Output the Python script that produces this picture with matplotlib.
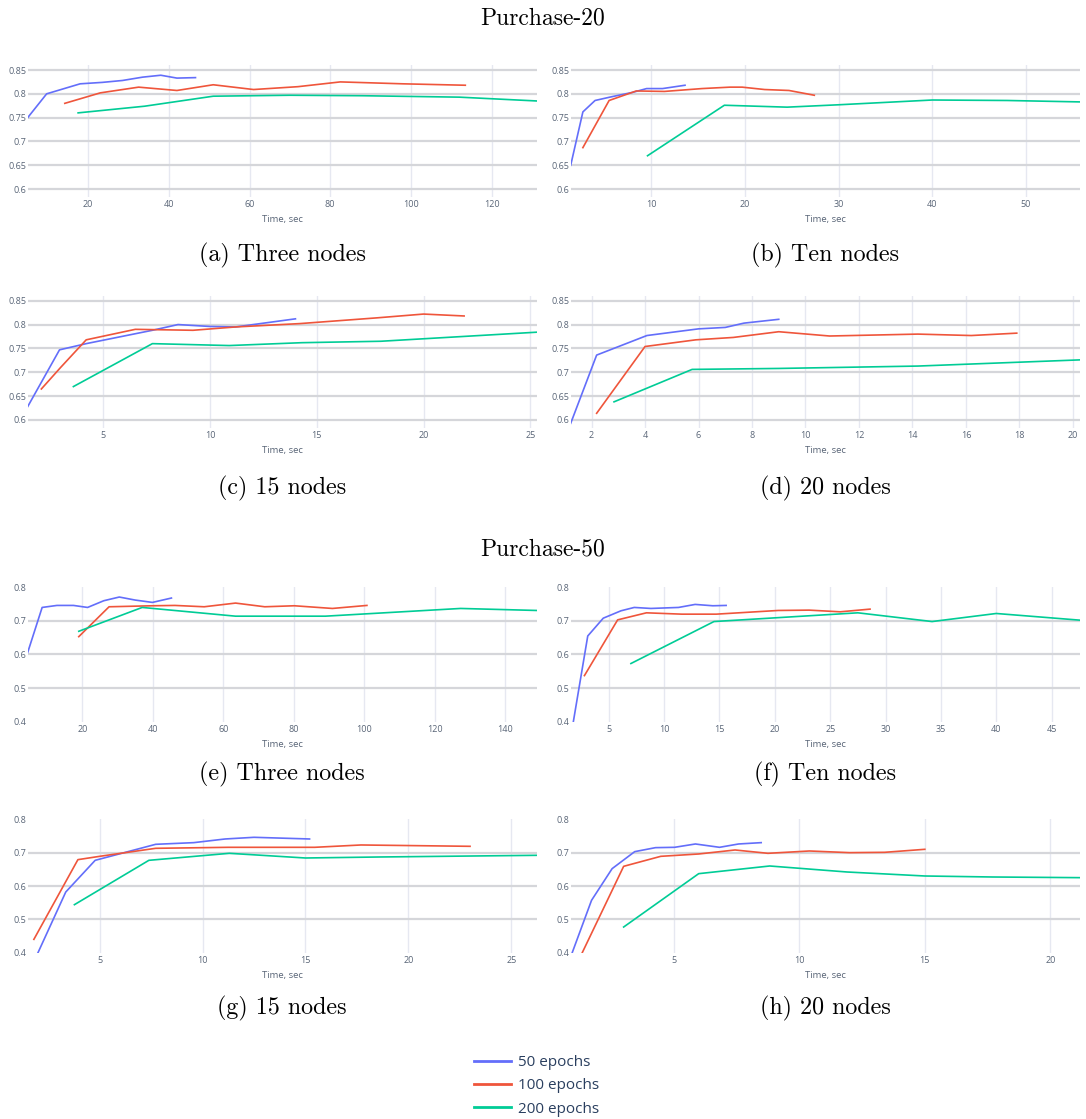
# Purchase-20 / Purchase-50 の学習時間と精度の推移を描画する

import numpy as np
import matplotlib
matplotlib.use("Agg")
import matplotlib.pyplot as plt

FIG_W = 1086
FIG_H = 1119
DPI = 100
FILE_NAME = "out.png"

COLOR_50 = "#636efa"
COLOR_100 = "#ef553b"
COLOR_200 = "#00cc96"
TICK_COLOR = "#596577"
TEXT_COLOR = "#2a3f5f"
HGRID_COLOR = "#d5d6da"
VGRID_COLOR = "#e6e8f1"
LINE_WIDTH = 1.2

SERIES_LABELS = ["50 epochs", "100 epochs", "200 epochs"]

# ---- Purchase-20 ----
# (a) Three nodes
A_T50 = [5.0, 9.7, 18.0, 23.5, 28.5, 33.5, 38.0, 42.0, 46.6]
A_V50 = [0.750, 0.800, 0.821, 0.824, 0.828, 0.835, 0.839, 0.833, 0.834]
A_T100 = [14.2, 23.0, 32.5, 42.0, 51.0, 61.0, 72.0, 82.5, 98.0, 113.5]
A_V100 = [0.780, 0.802, 0.814, 0.807, 0.819, 0.809, 0.815, 0.825, 0.821, 0.818]
A_T200 = [17.5, 34.0, 51.0, 70.0, 88.0, 112.0, 131.2]
A_V200 = [0.760, 0.774, 0.795, 0.797, 0.796, 0.793, 0.785]

# (b) Ten nodes
B_T50 = [1.4, 2.7, 4.0, 5.8, 8.0, 9.5, 11.2, 13.6]
B_V50 = [0.650, 0.762, 0.786, 0.794, 0.803, 0.811, 0.811, 0.818]
B_T100 = [2.7, 5.5, 8.4, 11.4, 15.4, 18.4, 19.7, 22.1, 24.7, 27.4]
B_V100 = [0.687, 0.786, 0.806, 0.805, 0.811, 0.814, 0.814, 0.809, 0.807, 0.797]
B_T200 = [9.6, 17.8, 24.5, 30.0, 40.0, 48.0, 55.8]
B_V200 = [0.670, 0.776, 0.772, 0.777, 0.787, 0.786, 0.783]

# (c) 15 nodes
C_T50 = [1.46, 2.95, 4.2, 7.3, 8.5, 10.0, 11.2, 14.0]
C_V50 = [0.628, 0.747, 0.760, 0.788, 0.800, 0.796, 0.795, 0.812]
C_T100 = [2.1, 3.0, 4.2, 6.5, 9.2, 11.2, 14.2, 17.8, 20.0, 21.9]
C_V100 = [0.665, 0.710, 0.768, 0.790, 0.788, 0.795, 0.802, 0.814, 0.822, 0.818]
C_T200 = [3.6, 7.3, 10.9, 14.3, 18.0, 25.3]
C_V200 = [0.670, 0.760, 0.756, 0.762, 0.765, 0.784]

# (d) 20 nodes
D_T50 = [1.22, 2.19, 4.07, 6.0, 7.0, 7.7, 9.0]
D_V50 = [0.593, 0.736, 0.777, 0.791, 0.794, 0.803, 0.811]
D_T100 = [2.19, 4.0, 5.9, 7.3, 9.0, 10.9, 14.2, 16.2, 17.9]
D_V100 = [0.614, 0.754, 0.768, 0.773, 0.785, 0.776, 0.780, 0.777, 0.782]
D_T200 = [2.84, 5.76, 9.0, 14.2, 20.28]
D_V200 = [0.638, 0.706, 0.708, 0.713, 0.726]

# ---- Purchase-50 ----
# (e) Three nodes
E_T50 = [4.5, 8.6, 12.8, 17.5, 21.5, 26.1, 30.5, 35.0, 39.9, 45.3]
E_V50 = [0.606, 0.740, 0.746, 0.746, 0.740, 0.760, 0.771, 0.762, 0.755, 0.768]
E_T100 = [19.0, 27.6, 39.9, 46.3, 54.6, 63.5, 71.8, 80.2, 91.0, 100.8]
E_V100 = [0.653, 0.742, 0.745, 0.746, 0.742, 0.753, 0.742, 0.745, 0.737, 0.746]
E_T200 = [19.0, 37.0, 63.5, 89.0, 127.4, 149.0]
E_V200 = [0.669, 0.740, 0.714, 0.714, 0.737, 0.731]

# (f) Ten nodes
F_T50 = [1.8, 3.1, 4.5, 6.1, 7.3, 8.8, 11.3, 12.8, 14.4, 15.6]
F_V50 = [0.400, 0.655, 0.708, 0.730, 0.740, 0.737, 0.740, 0.749, 0.745, 0.746]
F_T100 = [2.8, 5.8, 8.4, 11.6, 14.7, 20.3, 23.1, 25.9, 28.6]
F_V100 = [0.537, 0.703, 0.724, 0.720, 0.720, 0.731, 0.732, 0.727, 0.735]
F_T200 = [7.0, 14.5, 27.5, 34.2, 40.0, 47.6]
F_V200 = [0.573, 0.698, 0.724, 0.698, 0.722, 0.702]

# (g) 15 nodes
G_T50 = [2.0, 3.35, 4.78, 7.72, 9.57, 11.1, 12.5, 15.2]
G_V50 = [0.400, 0.582, 0.677, 0.725, 0.730, 0.741, 0.746, 0.741]
G_T100 = [1.8, 3.94, 5.0, 7.72, 11.25, 15.45, 17.7, 23.0]
G_V100 = [0.440, 0.679, 0.689, 0.713, 0.716, 0.716, 0.723, 0.719]
G_T200 = [3.77, 7.39, 11.3, 15.0, 18.6, 26.24]
G_V200 = [0.544, 0.677, 0.698, 0.684, 0.687, 0.692]

# (h) 20 nodes
H_T50 = [0.95, 1.72, 2.54, 3.44, 4.27, 5.03, 5.86, 6.82, 7.58, 8.48]
H_V50 = [0.400, 0.557, 0.652, 0.703, 0.715, 0.716, 0.726, 0.716, 0.726, 0.730]
H_T100 = [1.35, 3.0, 4.48, 5.99, 7.44, 8.75, 10.4, 12.0, 13.4, 15.0]
H_V100 = [0.400, 0.659, 0.689, 0.696, 0.708, 0.698, 0.705, 0.700, 0.701, 0.710]
H_T200 = [3.0, 5.99, 8.82, 11.9, 15.0, 17.7, 21.2]
H_V200 = [0.477, 0.637, 0.660, 0.642, 0.630, 0.627, 0.625]

# 目盛り
P20_YTICKS = [0.6, 0.65, 0.7, 0.75, 0.8, 0.85]
P20_YLABELS = ["0.6", "0.65", "0.7", "0.75", "0.8", "0.85"]
P50_YTICKS = [0.4, 0.5, 0.6, 0.7, 0.8]
P50_YLABELS = ["0.4", "0.5", "0.6", "0.7", "0.8"]

A_XTICKS = [20, 40, 60, 80, 100, 120]
B_XTICKS = [10, 20, 30, 40, 50]
C_XTICKS = [5, 10, 15, 20, 25]
D_XTICKS = [2, 4, 6, 8, 10, 12, 14, 16, 18, 20]
E_XTICKS = [20, 40, 60, 80, 100, 120, 140]
F_XTICKS = [5, 10, 15, 20, 25, 30, 35, 40, 45]
G_XTICKS = [5, 10, 15, 20, 25]
H_XTICKS = [5, 10, 15, 20]

CAPTIONS = ["(a) Three nodes", "(b) Ten nodes", "(c) 15 nodes", "(d) 20 nodes",
            "(e) Three nodes", "(f) Ten nodes", "(g) 15 nodes", "(h) 20 nodes"]
SECTION_TITLES = ["Purchase-20", "Purchase-50"]


def px_to_fig(x, y):
    """
    ピクセル座標 (左上原点) を図座標に変換
    """
    return x / FIG_W, 1.0 - y / FIG_H


def draw_panel(ax, series, xlim, ylim, xticks, yticks, ylabels):
    """
    1つのパネルを描画する

    パラメータ
        ax: 描画先
        series(list): (時間, 精度, 色) のリスト
    """
    # 格子線 (端の線は描かない)
    for yt in yticks:
        if ylim[0] < yt < ylim[1]:
            ax.axhline(yt, color=HGRID_COLOR, linewidth=1.6, zorder=1)
    for xt in xticks:
        if xlim[0] < xt < xlim[1]:
            ax.axvline(xt, color=VGRID_COLOR, linewidth=1.0, zorder=0)

    for t, v, c in series:
        ax.plot(t, v, color=c, linewidth=LINE_WIDTH, zorder=3)

    ax.set_xlim(*xlim)
    ax.set_ylim(*ylim)
    ax.set_xticks(xticks, [str(x) for x in xticks])
    ax.set_yticks(yticks, ylabels)
    ax.tick_params(length=0, labelsize=6.5, labelcolor=TICK_COLOR)
    ax.tick_params(axis="x", pad=2.5)
    ax.tick_params(axis="y", pad=1)
    ax.set_xlabel("Time, sec", fontsize=6.8, color=TICK_COLOR, labelpad=4)
    for s in ax.spines.values():
        s.set_visible(False)


def main():
    plt.rcParams["font.family"] = ["Open Sans", "DejaVu Sans"]

    fig = plt.figure(figsize=(FIG_W / DPI, FIG_H / DPI), dpi=DPI)

    # 各パネルの配置 (ピクセル)
    col_x = [(27.7, 536.7), (570.7, 1080.4)]
    row_y = [(65.0, 196.7), (295.7, 427.6), (587.3, 721.6), (819.3, 952.7)]
    caption_y = [255, 488, 774, 1008]

    p20_ylim = (0.584, 0.8605)
    p50_ylim = (0.4, 0.8)

    panels = [
        ([(A_T50, A_V50), (A_T100, A_V100), (A_T200, A_V200)], (5.0, 131.2), p20_ylim, A_XTICKS, P20_YTICKS, P20_YLABELS),
        ([(B_T50, B_V50), (B_T100, B_V100), (B_T200, B_V200)], (1.4, 55.8), p20_ylim, B_XTICKS, P20_YTICKS, P20_YLABELS),
        ([(C_T50, C_V50), (C_T100, C_V100), (C_T200, C_V200)], (1.46, 25.3), p20_ylim, C_XTICKS, P20_YTICKS, P20_YLABELS),
        ([(D_T50, D_V50), (D_T100, D_V100), (D_T200, D_V200)], (1.22, 20.28), p20_ylim, D_XTICKS, P20_YTICKS, P20_YLABELS),
        ([(E_T50, E_V50), (E_T100, E_V100), (E_T200, E_V200)], (4.5, 149.0), p50_ylim, E_XTICKS, P50_YTICKS, P50_YLABELS),
        ([(F_T50, F_V50), (F_T100, F_V100), (F_T200, F_V200)], (1.56, 47.6), p50_ylim, F_XTICKS, P50_YTICKS, P50_YLABELS),
        ([(G_T50, G_V50), (G_T100, G_V100), (G_T200, G_V200)], (1.5, 26.24), p50_ylim, G_XTICKS, P50_YTICKS, P50_YLABELS),
        ([(H_T50, H_V50), (H_T100, H_V100), (H_T200, H_V200)], (0.89, 21.2), p50_ylim, H_XTICKS, P50_YTICKS, P50_YLABELS),
    ]
    colors = [COLOR_50, COLOR_100, COLOR_200]

    for i, (data, xlim, ylim, xticks, yticks, ylabels) in enumerate(panels):
        row, col = divmod(i, 2)
        x0, x1 = col_x[col]
        y0, y1 = row_y[row]
        left, bottom = px_to_fig(x0, y1)
        ax = fig.add_axes([left, bottom, (x1 - x0) / FIG_W, (y1 - y0) / FIG_H])
        series = [(t, v, c) for (t, v), c in zip(data, colors)]
        draw_panel(ax, series, xlim, ylim, xticks, yticks, ylabels)

        # キャプション
        cx = (x0 + x1) / 2.0
        fx, fy = px_to_fig(cx, caption_y[row])
        fig.text(fx, fy, CAPTIONS[i], family="cmr10", fontsize=17.3,
                 ha="center", va="center", color="black")

    # 見出し
    for title, ty in zip(SECTION_TITLES, [18, 549]):
        fx, fy = px_to_fig(543, ty)
        fig.text(fx, fy, title, family="cmr10", fontsize=17,
                 ha="center", va="center", color="black")

    # 凡例
    handles = [plt.Line2D([], [], color=c, linewidth=2.0) for c in colors]
    lx, ly = px_to_fig(474, 1055)
    fig.legend(handles, SERIES_LABELS, loc="upper left", bbox_to_anchor=(lx, ly),
               frameon=False, fontsize=11, handlelength=2.4, handletextpad=0.45,
               labelspacing=0.55, borderpad=0, borderaxespad=0, labelcolor=TEXT_COLOR)

    fig.savefig(FILE_NAME, dpi=DPI)


if __name__ == "__main__":
    main()
